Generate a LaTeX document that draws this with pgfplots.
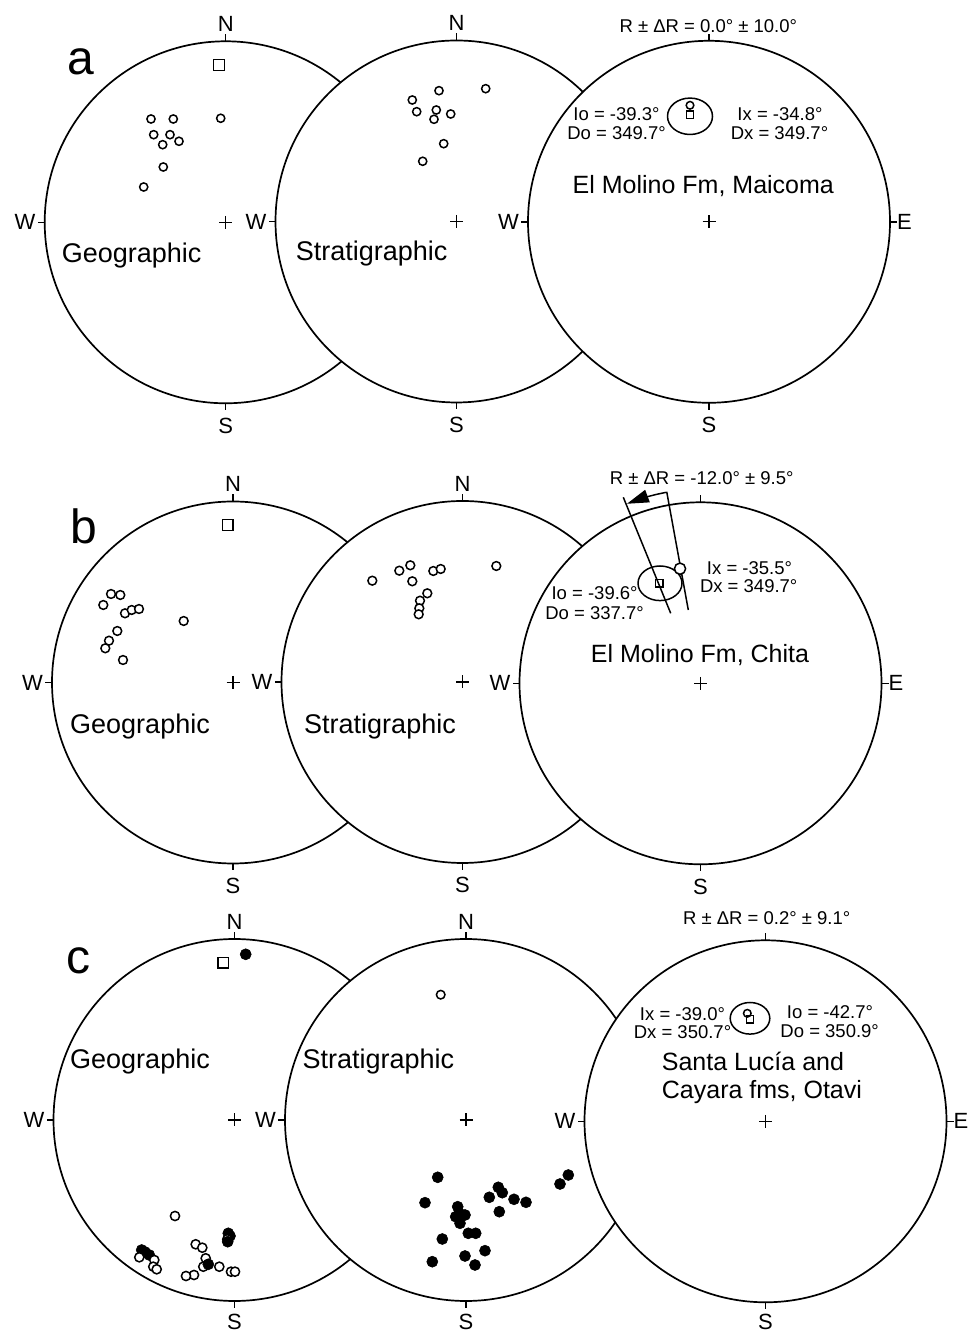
\documentclass[border=0pt]{standalone}
\usepackage{fontspec}
\setmainfont{Liberation Sans}
\usepackage{pgfplots}
\pgfplotsset{compat=1.18}
\usetikzlibrary{arrows.meta}
\newcommand{\fs}[1]{\fontsize{#1}{#1}\selectfont}
\pgfplotsset{
  stereo/.style={x=1pt,y=1pt,xmin=-200,xmax=200,ymin=-200,ymax=200,hide axis,clip=false,anchor=center},
  opn/.style={only marks, mark=*, mark size=4.3pt, mark options={fill=white,draw=black,line width=1.5pt}},
  fil/.style={only marks, mark=*, mark size=5.5pt, mark options={fill=black,draw=black,line width=0.6pt}},
  sq/.style={only marks, mark=square, mark size=5.3pt, mark options={draw=black,line width=1.5pt}},
  sqs/.style={only marks, mark=square, mark size=3.6pt, mark options={draw=black,line width=1.4pt}},
}
\newcommand{\netbase}[1][-211]{%
  \fill[white] (axis cs:0,0) circle[radius=181pt];
  \draw[line width=1.7pt] (axis cs:0,0) circle[radius=181pt];
  \draw[line width=1.5pt] (axis cs:0,181) -- (axis cs:0,188);
  \draw[line width=1.5pt] (axis cs:0,-181) -- (axis cs:0,-188);
  \draw[line width=1.5pt] (axis cs:-181,0) -- (axis cs:-188,0);
  \addplot[only marks, mark=+, mark size=6.5pt, mark options={line width=1.4pt}] coordinates {(0,0)};
  \node[font=\fs{22}, anchor=base, inner sep=0pt] at (axis cs:0,#1) {S};
  \node[font=\fs{22}, anchor=east, inner sep=0pt] at (axis cs:-190,0) {W};
}
\newcommand{\netN}{\node[font=\fs{22}, anchor=base, inner sep=0pt] at (axis cs:0,190.6) {N};}
\newcommand{\netE}{%
  \draw[line width=1.5pt] (axis cs:181,0) -- (axis cs:188,0);
  \node[font=\fs{22}, anchor=west, inner sep=0pt] at (axis cs:188,0) {E};
}
\begin{document}
\begin{tikzpicture}
\useasboundingbox (0,0) rectangle (970pt,1333pt);
% ================= row a =================
\begin{axis}[stereo, at={(225.7pt,1110.7pt)}]
\netbase\netN
\addplot[sq] coordinates {(-6.7,157.3)};
\addplot[opn, mark size=4.1pt] coordinates {(-74.7,103.3)(-52.4,103.3)(-5,104)(-72,87.6)(-55.7,87.6)(-46.7,81)(-63,77.6)(-62.4,55.3)(-82,35.3)};
\node[font=\fs{27}, anchor=base, inner sep=0pt] at (axis cs:-94,-40) {Geographic};
\node[font=\fs{48}, anchor=base, inner sep=0pt] at (axis cs:-145.2,147.3) {a};
\end{axis}
\begin{axis}[stereo, at={(456.5pt,1111.5pt)}]
\netbase\netN
\addplot[opn, mark size=4.1pt] coordinates {(-17.5,130.8)(29.2,132.8)(-44.2,121.5)(-39.8,109.8)(-20.2,111.5)(-5.8,107.5)(-22.5,102.2)(-12.8,77.8)(-33.8,60.2)};
\node[font=\fs{27}, anchor=base, inner sep=0pt] at (axis cs:-84.8,-39.2) {Stratigraphic};
\end{axis}
\begin{axis}[stereo, at={(709pt,1111.2pt)}]
\netbase\netE
\node[font=\fs{18.5}, anchor=base, inner sep=0pt] at (axis cs:-0.7,189.5) {R ± ΔR = 0.0° ± 10.0°};
\draw[line width=1.5pt] (axis cs:-19,105.5) ellipse[x radius=22.5pt, y radius=18.2pt];
\addplot[sqs] coordinates {(-19,107.1)};
\addplot[opn, mark size=3.8pt] coordinates {(-19,116.5)};
\node[font=\fs{18.5}, anchor=base, inner sep=0pt] at (axis cs:-92.5,101.1) {Io = -39.3°};
\node[font=\fs{18.5}, anchor=base, inner sep=0pt] at (axis cs:-92.5,81.8) {Do = 349.7°};
\node[font=\fs{18.5}, anchor=base, inner sep=0pt] at (axis cs:71,101.1) {Ix = -34.8°};
\node[font=\fs{18.5}, anchor=base, inner sep=0pt] at (axis cs:70.5,81.8) {Dx = 349.7°};
\node[font=\fs{25}, anchor=base, inner sep=0pt] at (axis cs:-5.7,28.5) {El Molino Fm, Maicoma};
\end{axis}
% ================= row b =================
\begin{axis}[stereo, at={(233pt,650.5pt)}]
\netbase\netN
\addplot[sq] coordinates {(-5.3,157.5)};
\addplot[opn, mark size=4.4pt] coordinates {(-129.7,77.5)(-122,88.5)(-112.7,87.5)(-108,69.2)(-101.3,72.5)(-94,73.5)(-115.7,51.5)(-124,41.8)(-127.7,34.2)(-110,22.5)(-49.3,61.5)};
\node[font=\fs{27}, anchor=base, inner sep=0pt] at (axis cs:-93,-51.5) {Geographic};
\node[font=\fs{48}, anchor=base, inner sep=0pt] at (axis cs:-149,139.2) {b};
\end{axis}
\begin{axis}[stereo, at={(462.5pt,651pt)}]
\netbase\netN
\addplot[opn, mark size=4.4pt] coordinates {(-90.2,101.3)(-63.2,111.3)(-52.2,116.7)(-50.2,100.7)(-29.2,111)(-21.8,113)(-35.2,88.7)(-42.5,81.3)(-43.2,73.7)(-43.8,67.7)(33.8,116)};
\node[font=\fs{27}, anchor=base, inner sep=0pt] at (axis cs:-82.5,-52) {Stratigraphic};
\end{axis}
\begin{axis}[stereo, at={(700.5pt,649.7pt)}]
\netbase\netE
\node[font=\fs{18.5}, anchor=base, inner sep=0pt] at (axis cs:1.2,198.3) {R ± ΔR = -12.0° ± 9.5°};
\addplot[line width=1.5pt, no marks] coordinates {(-77.2,186)(-29.8,70)};
\addplot[line width=1.5pt, no marks] coordinates {(-33.8,191.6)(-12.2,73.3)};
\addplot[line width=1.5pt, no marks, -{Triangle[length=22pt,width=13pt]}] coordinates {(-34.7,190.9)(-43.6,189.0)(-53.5,186.5)(-63.2,183.4)(-73.6,179.5)};
\draw[line width=1.5pt] (axis cs:-40.5,100) ellipse[x radius=22pt, y radius=17.3pt];
\addplot[sqs] coordinates {(-41.2,100)};
\addplot[opn, mark size=5.6pt] coordinates {(-20.5,114.6)};
\node[font=\fs{18.5}, anchor=base, inner sep=0pt] at (axis cs:-105.9,83.3) {Io = -39.6°};
\node[font=\fs{18.5}, anchor=base, inner sep=0pt] at (axis cs:-106,64) {Do = 337.7°};
\node[font=\fs{18.5}, anchor=base, inner sep=0pt] at (axis cs:49,109) {Ix = -35.5°};
\node[font=\fs{18.5}, anchor=base, inner sep=0pt] at (axis cs:48.2,90.6) {Dx = 349.7°};
\node[font=\fs{25}, anchor=base, inner sep=0pt] at (axis cs:-0.5,21) {El Molino Fm, Chita};
\end{axis}
% ================= row c =================
\begin{axis}[stereo, at={(234.5pt,213pt)}]
\netbase[-209]\netN
\addplot[sq] coordinates {(-11.2,157.3)};
\addplot[fil] coordinates {(11.2,165.7)(-92.8,-130)(-89.5,-132)(-85.2,-135)(-6.2,-113.3)(-4.5,-116)};
\addplot[opn, mark size=4.6pt] coordinates {(-59.5,-96)(-95.2,-137.3)(-80.2,-140)(-81.2,-146.7)(-77.8,-149.3)(-38.8,-124.3)(-32.2,-127.7)(-28.8,-138.3)(-31.2,-146.7)(-40.5,-155)(-48.5,-156)(-15.2,-146.7)(-3.5,-151.7)(0.5,-151.7)(-7.2,-119.3)};
\addplot[fil] coordinates {(-26.2,-144.3)(-6.8,-121.7)};
\node[font=\fs{27}, anchor=base, inner sep=0pt] at (axis cs:-94.5,51.7) {Geographic};
\node[font=\fs{48}, anchor=base, inner sep=0pt] at (axis cs:-156.5,146.7) {c};
\end{axis}
\begin{axis}[stereo, at={(466pt,213pt)}]
\netbase[-209]\netN
\addplot[opn, mark size=4.3pt] coordinates {(-25.3,125.3)};
\addplot[fil] coordinates {(-28.3,-57.3)(-41,-82.7)(-8.3,-86.7)(-10.3,-96.7)(-1,-95)(-6,-103.3)(-6.7,-93.3)(2.3,-113.3)(9.7,-113.3)(-23.7,-119)(-33.7,-141.7)(-1,-136)(9,-145)(19,-130.7)(23.3,-77.3)(32.3,-67.3)(36.3,-72.7)(48,-79.3)(60,-82.3)(33.3,-91.7)(94,-64)(102.3,-55)};
\node[font=\fs{27}, anchor=base, inner sep=0pt] at (axis cs:-87.7,51.7) {Stratigraphic};
\end{axis}
\begin{axis}[stereo, at={(765.5pt,211.7pt)}]
\netbase[-208]\netE
\node[font=\fs{18.5}, anchor=base, inner sep=0pt] at (axis cs:1.2,196.3) {R ± ΔR = 0.2° ± 9.1°};
\draw[line width=1.5pt] (axis cs:-15.5,103) ellipse[x radius=19.8pt, y radius=15.8pt];
\addplot[opn, mark size=3.8pt] coordinates {(-18.2,108)};
\addplot[sqs] coordinates {(-15.5,102)};
\node[font=\fs{18.5}, anchor=base, inner sep=0pt] at (axis cs:-83,100.6) {Ix = -39.0°};
\node[font=\fs{18.5}, anchor=base, inner sep=0pt] at (axis cs:-83,83) {Dx = 350.7°};
\node[font=\fs{18.5}, anchor=base, inner sep=0pt] at (axis cs:64.5,102.3) {Io = -42.7°};
\node[font=\fs{18.5}, anchor=base, inner sep=0pt] at (axis cs:64.2,84) {Do = 350.9°};
\node[font=\fs{25}, anchor=base west, inner sep=0pt] at (axis cs:-103.8,50.6) {Santa Lucía and};
\node[font=\fs{25}, anchor=base west, inner sep=0pt] at (axis cs:-103.8,22.3) {Cayara fms, Otavi};
\end{axis}
\end{tikzpicture}
\end{document}
